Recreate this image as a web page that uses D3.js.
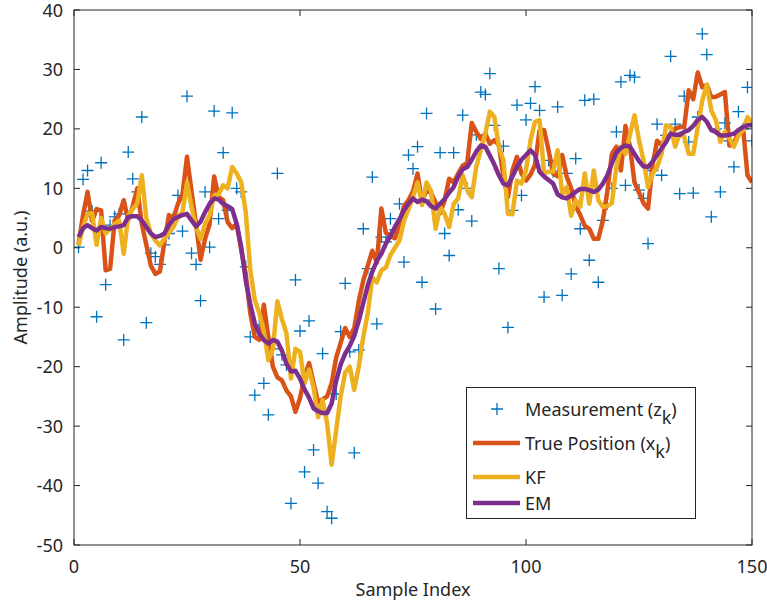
<!DOCTYPE html>
<html><head><meta charset="utf-8">
<script src="https://cdn.jsdelivr.net/npm/d3@7/dist/d3.min.js"></script>
<style>body{margin:0;background:#fff;} svg{display:block;}</style>
</head><body>
<script>
const sampleIndex = d3.range(1, 151);
const measurement = [0.1,11.5,13,6.2,-11.6,14.3,-6.2,3.8,5.2,5.7,-15.5,16.1,11.6,9.4,22,-12.6,-0.9,-1.5,-2.8,0.5,
2.4,5,8.8,2.8,25.5,-0.9,-2.8,-8.9,9.4,0.1,23,4.9,16,6.3,22.7,10,9.4,-3.2,-15,-24.8,
-13,-22.8,-28.1,-17,12.5,-18,-19.7,-43,-5.4,-14,-37.7,-12.3,-34,-39.6,-17.8,-44.4,-45.5,-24.6,-14.1,-6,
-17.5,-34.5,-17.2,3.2,-3.5,11.9,-12.8,1.8,1,4.9,3,7.4,-2.4,15.6,13.3,17,-5.8,22.6,8,-10.3,
16,2.4,-1.3,16,6.4,22.3,10,4.5,19,26.2,25.8,29.3,20.6,-3.5,17.1,-13.4,6.3,24,8.8,21.5,
24.3,27.1,23.1,-8.3,14.7,12.8,23.7,-8,12.5,-4.4,15,3.2,24.8,-2.1,25,-5.8,4.6,7.4,10,19.5,
27.9,10.5,29,28.7,9.7,8.3,0.7,13,20.8,12.2,18.9,32.2,20.8,9.1,25.5,17.8,9.2,22,36,32.5,
5.2,20,9.4,21,18,13.6,22.9,20,27,18];
const truePosition = [0.5,5.5,9.4,4.5,6.5,6.3,-3.8,-3.5,4.6,5.5,8,4.6,7,10,4,0.5,-3,-4.4,-4,1,
5.5,5,7.4,9,15.3,9.5,4,-2,1.5,4,12,8.5,8,4.3,3.3,4,-0.4,-4.4,-11,-15,
-15.5,-9.6,-15,-20,-21.8,-22.3,-24,-25,-27.6,-25.3,-21.7,-19.4,-22.8,-26,-25.5,-25,-22.8,-18.5,-16,-13.5,
-15,-13.5,-9,-5.5,-3,-0.5,-2.5,6.6,2.5,2,1.6,4,7,8,9.5,12.5,7.6,9.8,9.2,7.6,
5.8,8,11.6,11,12.5,13.8,14.3,21,19.5,18.3,19.2,17.5,18.1,17.3,12,8.5,13,15.3,12.5,11.3,
12.3,14,19.8,19.8,16.4,12.5,12,15.6,12,10,7,5.5,3.7,3.2,1.5,1.5,4.6,9.5,15.8,17,
13,20.5,17,11,9.3,7.5,6.6,14,18,17.3,18.5,19,20,20.3,20.3,26.5,25,29.5,27,27.4,
25.3,25.4,25.8,26.2,17.2,17.5,19.5,20.3,12.2,11];
const kfEstimate = [0.4,3.5,5.7,5.8,0.5,5,2.4,3.2,4,4.6,-1,5.4,6.5,7.5,12.2,5,2.4,1.2,0.4,1.5,
2.5,3.5,5.2,6,11,6.9,3.5,1.5,4,5.5,8.8,9,10.5,10,13.6,12.5,11,6,-3.7,-8.8,
-11,-14,-18.9,-17,-9,-12,-14.4,-22,-17,-17.5,-22.8,-20.5,-23.5,-28.5,-25.6,-29.5,-36.5,-30.7,-25,-21,
-20,-23.9,-20,-15,-11,-5,-5.8,-3.8,-3.3,-1.2,0,1.2,4.5,6.5,8.5,11,7.2,11,9.5,3.2,
6.9,5.7,3.5,7.4,8.3,12.2,9.7,8.5,13.6,16.5,19.2,22.9,22,17,14.7,5.7,5.7,11.3,10.8,13,
18.1,21.2,21.5,12.5,12.8,12.8,16.4,9.1,10.2,5.4,8,6.9,12.5,7.4,13,8,6.9,7,7.5,13.6,
17,15.8,19,22.3,18.1,14.7,10.2,12.5,13.6,15.8,20.6,20.3,17,19.2,18.7,15.8,15.8,20.3,24.8,27.4,
23.1,21.5,17.8,19.5,18.4,17,18.9,19.8,22,20.9];
const emEstimate = [1.8,3.3,3.8,3.3,2.9,3.5,3.3,3.2,3.5,3.6,3.8,5.2,5.3,5.3,4.6,3.5,2.4,1.8,2,2.4,
3.8,4.8,5.2,5.5,5.7,4.6,3.6,4.4,6,7.4,8.3,8.1,7.4,7,6.5,4,0.1,-5.5,-9.5,-12.7,
-14.5,-15.5,-16.1,-15.5,-15.8,-17.3,-19.5,-20.8,-20.7,-22,-23.8,-25.2,-27,-27.5,-27.8,-27.8,-26.2,-22.4,-19.6,-17.8,
-16.5,-14.8,-12.3,-9.3,-6.3,-4,-2.2,-1,0.7,2,3.5,4.8,6.3,7.4,8.3,7.7,8.1,7.8,7,6.6,
7.4,8.2,9.3,10.2,12,13.2,13.6,14.8,16.2,17.2,17,15.5,14,12.2,10.8,10.5,12,13.6,14.8,15.6,
16.4,15.6,12.8,12,11.4,10.8,9,8.5,8.3,8.8,9.4,9.9,9.9,9.7,9.4,9.8,10.8,12.2,14.2,16,
16.8,17.2,17,15.8,14.6,13.7,13.6,14.5,15.6,16.7,17.8,19.2,19,19,19.5,19.8,20.5,21.5,22,21.2,
19.8,19.5,18.9,18.9,19,19.2,19.8,20.3,20.6,20.6];
const xTicks = [0, 50, 100, 150];
const yTicks = [-50, -40, -30, -20, -10, 0, 10, 20, 30, 40];
const legendLabels = [["Measurement (z", "k", ")"], ["True Position (x", "k", ")"], ["KF", "", ""], ["EM", "", ""]];
const colors = {meas: "#0072BD", tru: "#D95319", kf: "#EDB120", em: "#7E2F8E"};

const W = 767, H = 608;
const m = {left: 74, right: 15, top: 10, bottom: 63};
const svg = d3.select("body").append("svg").attr("width", W).attr("height", H);
const x = d3.scaleLinear().domain([0, 150]).range([m.left, W - m.right]);
const y = d3.scaleLinear().domain([-50, 40]).range([H - m.bottom, m.top]);
const font = "'Noto Sans', 'Open Sans', sans-serif";
const axisCol = "#262626";
const fs = 18;

svg.append("defs").append("clipPath").attr("id", "clip").append("rect")
  .attr("x", m.left).attr("y", m.top).attr("width", x(150) - m.left).attr("height", y(-50) - m.top);

const g = svg.append("g").attr("clip-path", "url(#clip)");

const ms = 6;
g.append("g").selectAll("path").data(sampleIndex).join("path")
  .attr("d", (k, i) => `M${x(k) - ms},${y(measurement[i])}H${x(k) + ms}M${x(k)},${y(measurement[i]) - ms}V${y(measurement[i]) + ms}`)
  .attr("stroke", colors.meas).attr("stroke-width", 1.3).attr("fill", "none");

const line = arr => d3.line().x((k) => x(k)).y((k, i) => y(arr[i]))(sampleIndex);
[[truePosition, colors.tru], [kfEstimate, colors.kf], [emEstimate, colors.em]].forEach(([arr, c]) => {
  g.append("path").attr("d", line(arr)).attr("fill", "none").attr("stroke", c)
    .attr("stroke-width", 4.5).attr("stroke-linejoin", "round");
});

const ax = svg.append("g");
ax.append("rect").attr("x", m.left).attr("y", m.top).attr("width", x(150) - m.left).attr("height", y(-50) - m.top)
  .attr("fill", "none").attr("stroke", axisCol).attr("stroke-width", 1);
const tl = 6;
xTicks.forEach(t => {
  ax.append("line").attr("x1", x(t)).attr("x2", x(t)).attr("y1", y(-50)).attr("y2", y(-50) - tl).attr("stroke", axisCol);
  ax.append("line").attr("x1", x(t)).attr("x2", x(t)).attr("y1", y(40)).attr("y2", y(40) + tl).attr("stroke", axisCol);
  ax.append("text").attr("x", x(t)).attr("y", y(-50) + 28).attr("text-anchor", "middle")
    .attr("font-family", font).attr("font-size", fs).attr("fill", axisCol).text(t);
});
yTicks.forEach(t => {
  ax.append("line").attr("x1", x(0)).attr("x2", x(0) + tl).attr("y1", y(t)).attr("y2", y(t)).attr("stroke", axisCol);
  ax.append("line").attr("x1", x(150)).attr("x2", x(150) - tl).attr("y1", y(t)).attr("y2", y(t)).attr("stroke", axisCol);
  ax.append("text").attr("x", x(0) - 11).attr("y", y(t) + 6.5).attr("text-anchor", "end")
    .attr("font-family", font).attr("font-size", fs).attr("fill", axisCol).text(t);
});
svg.append("text").attr("x", (x(0) + x(150)) / 2).attr("y", 596).attr("text-anchor", "middle")
  .attr("font-family", font).attr("font-size", fs).attr("fill", axisCol).text("Sample Index");
svg.append("text").attr("transform", `translate(27,${(y(40) + y(-50)) / 2}) rotate(-90)`).attr("text-anchor", "middle")
  .attr("font-family", font).attr("font-size", fs).attr("fill", axisCol).text("Amplitude (a.u.)");

const lg = svg.append("g");
lg.append("rect").attr("x", 466.5).attr("y", 387.5).attr("width", 229).attr("height", 131)
  .attr("fill", "#fff").attr("stroke", axisCol).attr("stroke-width", 1);
const rowsY = [409, 443, 477, 503];
legendLabels.forEach((lab, i) => {
  const yy = rowsY[i];
  if (i === 0) {
    lg.append("path").attr("d", `M${497 - ms},${yy}H${497 + ms}M497,${yy - ms}V${yy + ms}`)
      .attr("stroke", colors.meas).attr("stroke-width", 1.3);
  } else {
    lg.append("line").attr("x1", 473).attr("x2", 520).attr("y1", yy).attr("y2", yy)
      .attr("stroke", [null, colors.tru, colors.kf, colors.em][i]).attr("stroke-width", 4.5);
  }
  const t = lg.append("text").attr("x", 525).attr("y", yy + 6.5).attr("font-family", font)
    .attr("font-size", fs).attr("fill", axisCol);
  t.append("tspan").text(lab[0]);
  if (lab[1]) {
    t.append("tspan").attr("dy", 8).text(lab[1]);
    t.append("tspan").attr("dy", -8).text(lab[2]);
  }
});
</script>
</body></html>
